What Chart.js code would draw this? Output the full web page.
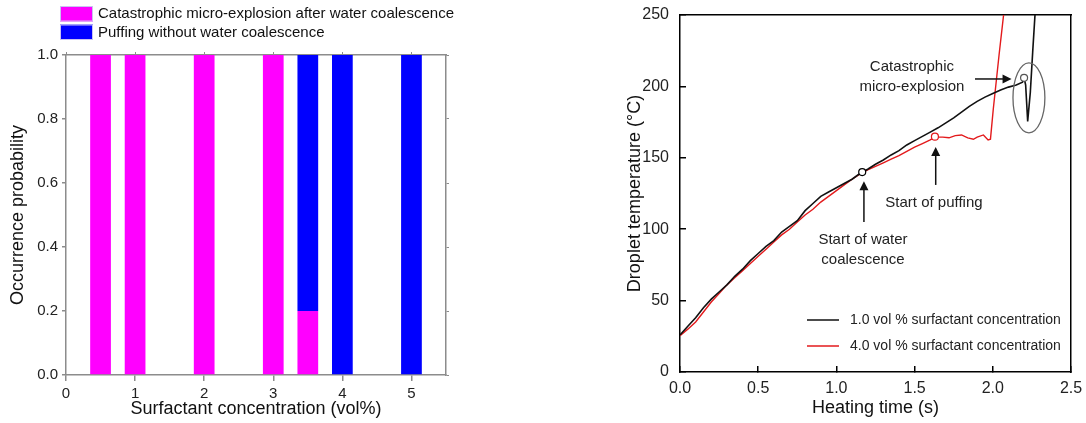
<!DOCTYPE html>
<html>
<head>
<meta charset="utf-8">
<script src="https://cdn.jsdelivr.net/npm/chart.js@4.4.1/dist/chart.umd.min.js"></script>
<style>
  html, body { margin: 0; padding: 0; background: #fff; }
  #wrap { position: relative; width: 1086px; height: 423px; }
  .panel { position: absolute; top: 0; height: 423px; }
  #left { left: 0; width: 560px; }
  #right { left: 560px; width: 526px; }
</style>
</head>
<body>
<div id="wrap">
  <div class="panel" id="left"><canvas id="probChart"></canvas></div>
  <div class="panel" id="right"><canvas id="tempChart"></canvas></div>
</div>
<script>
// left panel: occurrence probability per surfactant concentration (vol%)
const concentrations = [0.5, 1, 2, 3, 3.5, 4, 5];
const microExplosionProb = [1, 1, 1, 1, 0.2, 0, 0];
const puffingProb = [0, 0, 0, 0, 0.8, 1, 1];

// right panel: droplet temperature (°C) vs heating time (s)
const time1 = [0, 0.05, 0.1, 0.15, 0.2, 0.25, 0.3, 0.35, 0.4, 0.45, 0.5, 0.55, 0.6, 0.65, 0.7, 0.75, 0.8, 0.85, 0.9, 0.95,
  1.0, 1.05, 1.1, 1.15, 1.2, 1.25, 1.3, 1.35, 1.4, 1.45, 1.5, 1.55, 1.6, 1.65, 1.7, 1.75, 1.8, 1.85, 1.9, 1.95,
  2.0, 2.05, 2.1, 2.15, 2.19, 2.2, 2.21, 2.223, 2.24, 2.255, 2.272];
const temp1 = [26, 32, 38, 45, 51, 56, 61, 67, 72, 78, 83, 88, 92, 98, 102, 106, 113, 118, 123, 126,
  129, 132, 135, 139, 142, 145.5, 148.5, 152, 155, 159, 162, 165, 168, 171, 174.5, 178, 182, 186, 189.5, 192.5,
  195, 197.5, 199.5, 201, 203, 206, 201, 175.5, 196, 224, 254];
const time4 = [0, 0.05, 0.1, 0.15, 0.2, 0.25, 0.3, 0.35, 0.4, 0.45, 0.5, 0.55, 0.6, 0.65, 0.7, 0.75, 0.8, 0.85, 0.9, 0.95,
  1.0, 1.05, 1.1, 1.15, 1.2, 1.25, 1.3, 1.35, 1.4, 1.45, 1.5, 1.55, 1.6, 1.63, 1.68, 1.72, 1.76, 1.8, 1.84, 1.876,
  1.9, 1.94, 1.97, 1.985, 2.003, 2.04, 2.07, 2.08];
const temp4 = [25.5, 30, 35, 42, 49, 55, 61, 66, 71, 76, 81, 86, 91, 96, 100, 105, 110, 114, 119, 123,
  127, 131, 135, 138.5, 141.5, 144, 146.5, 149, 151.5, 154.5, 157.5, 160, 162.5, 164.5, 164.5, 164, 165.5, 166, 164, 163,
  164.5, 166, 162.5, 163, 184, 222, 251, 263];

// event markers: water coalescence, start of puffing, micro-explosion
const markerTimes = [1.165, 1.63, 2.2];
const markerTemps = [140, 164.8, 206];
const markerColors = ['#000000', '#e31a1c', '#555555'];

Chart.defaults.font.family = '"Liberation Sans", Arial, sans-serif';
Chart.defaults.color = '#222';
const narrowFont = '"Liberation Sans Narrow", "Arial Narrow", "Liberation Sans", Arial, sans-serif';

const toXY = (xs, ys) => xs.map((x, i) => ({ x, y: ys[i] }));

function drawArrow(ctx, x1, y1, x2, y2) {
  const ang = Math.atan2(y2 - y1, x2 - x1);
  const len = 9, half = 4.5;
  ctx.beginPath();
  ctx.moveTo(x1, y1);
  ctx.lineTo(x2 - Math.cos(ang) * len * 0.8, y2 - Math.sin(ang) * len * 0.8);
  ctx.stroke();
  ctx.beginPath();
  ctx.moveTo(x2, y2);
  ctx.lineTo(x2 - Math.cos(ang) * len - Math.sin(ang) * half, y2 - Math.sin(ang) * len + Math.cos(ang) * half);
  ctx.lineTo(x2 - Math.cos(ang) * len + Math.sin(ang) * half, y2 - Math.sin(ang) * len - Math.cos(ang) * half);
  ctx.closePath();
  ctx.fill();
}

// legend above the plot, stacked entries
const boxLegend = {
  id: 'boxLegend',
  afterDraw(chart) {
    const { ctx } = chart;
    ctx.save();
    ctx.font = '15px "Liberation Sans", Arial, sans-serif';
    ctx.textBaseline = 'middle';
    chart.data.datasets.forEach((ds, i) => {
      const top = 6 + i * 18.5;
      ctx.fillStyle = ds.backgroundColor;
      ctx.fillRect(60, top, 33, 15.5);
      ctx.strokeStyle = '#c9c3f2';
      ctx.lineWidth = 1;
      ctx.strokeRect(60.5, top + 0.5, 32, 14.5);
      ctx.fillStyle = '#111';
      ctx.fillText(ds.label, 98, top + 8);
    });
    ctx.restore();
  }
};

const tempNotes = {
  id: 'tempNotes',
  afterDraw(chart) {
    const { ctx, scales: { x, y } } = chart;
    const px = v => x.getPixelForValue(v);
    const py = v => y.getPixelForValue(v);
    ctx.save();
    ctx.fillStyle = '#222';
    ctx.strokeStyle = '#111';
    ctx.lineWidth = 1.5;
    ctx.font = '15px "Liberation Sans", Arial, sans-serif';
    ctx.textAlign = 'center';
    ctx.textBaseline = 'middle';
    ctx.fillText('Catastrophic', px(1.483), py(213.5));
    ctx.fillText('micro-explosion', px(1.483), py(199.5));
    ctx.fillText('Start of puffing', px(1.624), py(118.3));
    ctx.fillText('Start of water', px(1.17), py(92.8));
    ctx.fillText('coalescence', px(1.17), py(78.5));
    ctx.fillStyle = '#111';
    drawArrow(ctx, px(1.886), py(205.2), px(2.12), py(205.2));
    drawArrow(ctx, px(1.635), py(131), px(1.635), py(157.5));
    drawArrow(ctx, px(1.176), py(105), px(1.176), py(133.5));
    // circle around the micro-explosion dip
    ctx.strokeStyle = '#666';
    ctx.lineWidth = 1.3;
    ctx.beginPath();
    ctx.ellipse(px(2.231), py(192), px(2.333) - px(2.231), py(192) - py(216.5), 0, 0, Math.PI * 2);
    ctx.stroke();
    // legend, lower right inside the plot
    ctx.font = '14px "Liberation Sans", Arial, sans-serif';
    ctx.textAlign = 'left';
    const a = chart.chartArea;
    chart.data.datasets.filter(ds => ds.showLine !== false).forEach((ds, i) => {
      const ly = a.bottom - 52 + i * 26;
      ctx.strokeStyle = ds.borderColor;
      ctx.lineWidth = 1.5;
      ctx.beginPath();
      ctx.moveTo(a.left + 127, ly);
      ctx.lineTo(a.left + 159, ly);
      ctx.stroke();
      ctx.fillStyle = '#222';
      ctx.fillText(ds.label, a.left + 170, ly);
    });
    ctx.restore();
  }
};

const grayAxis = '#8c8c8c';

new Chart(document.getElementById('probChart'), {
  type: 'bar',
  data: {
    datasets: [
      { label: 'Catastrophic micro-explosion after water coalescence', data: toXY(concentrations, microExplosionProb), backgroundColor: '#ff00ff' },
      { label: 'Puffing without water coalescence', data: toXY(concentrations, puffingProb), backgroundColor: '#0000ff' }
    ]
  },
  options: {
    responsive: true,
    maintainAspectRatio: false,
    animation: false,
    layout: { padding: { top: 51, right: 110, left: 0, bottom: 0 } },
    datasets: { bar: { barPercentage: 0.6, categoryPercentage: 1, borderWidth: 0 } },
    plugins: { legend: { display: false }, tooltip: { enabled: false } },
    scales: {
      x: {
        type: 'linear', position: 'bottom', min: 0, max: 5.5, stacked: true, offset: false,
        grid: { drawOnChartArea: false, offset: false, tickLength: 6, color: grayAxis, lineWidth: 1.5 },
        border: { color: grayAxis, width: 1.5 },
        ticks: { stepSize: 1, includeBounds: false, padding: 4, color: '#222', font: { size: 15 } },
        title: { display: true, text: 'Surfactant concentration (vol%)', color: '#111', font: { size: 18 }, padding: { top: 0, bottom: 3 } },
        afterFit: s => { s.height = 48; }
      },
      x2: {
        type: 'linear', position: 'top', min: 0, max: 5.5, offset: false,
        grid: { drawOnChartArea: false, offset: false, tickLength: 3, color: grayAxis, lineWidth: 1 },
        border: { color: grayAxis, width: 1.5 },
        ticks: { display: false, stepSize: 1, includeBounds: false },
        afterFit: s => { s.height = 4; }
      },
      y: {
        min: 0, max: 1, stacked: true,
        grid: { drawOnChartArea: false, tickLength: 4, color: grayAxis, lineWidth: 1.5 },
        border: { color: grayAxis, width: 1.5 },
        ticks: { stepSize: 0.2, padding: 4, color: '#222', font: { size: 15 }, callback: v => v.toFixed(1) },
        title: { display: true, text: 'Occurrence probability', color: '#111', font: { size: 18 }, padding: { top: 7, bottom: 0 } },
        afterFit: s => { s.width = 66; }
      },
      y2: {
        position: 'right', min: 0, max: 1,
        grid: { drawOnChartArea: false, tickLength: 3, color: grayAxis, lineWidth: 1 },
        border: { color: grayAxis, width: 1.5 },
        ticks: { display: false, stepSize: 0.2 },
        afterFit: s => { s.width = 4; }
      }
    }
  },
  plugins: [boxLegend]
});

new Chart(document.getElementById('tempChart'), {
  type: 'line',
  data: {
    datasets: [
      { label: 'markers', data: toXY(markerTimes, markerTemps), showLine: false, order: -1,
        pointRadius: 3.5, pointBackgroundColor: '#fff', pointBorderColor: markerColors, pointBorderWidth: 1.2 },
      { label: '1.0 vol % surfactant concentration', data: toXY(time1, temp1), borderColor: '#111', borderWidth: 1.6, pointRadius: 0 },
      { label: '4.0 vol % surfactant concentration', data: toXY(time4, temp4), borderColor: '#e31a1c', borderWidth: 1.4, pointRadius: 0 }
    ]
  },
  options: {
    responsive: true,
    maintainAspectRatio: false,
    animation: false,
    layout: { padding: { top: 15, right: 15, left: 0, bottom: 0 } },
    plugins: { legend: { display: false }, tooltip: { enabled: false } },
    scales: {
      x: {
        type: 'linear', position: 'bottom', min: 0, max: 2.5,
        grid: { drawOnChartArea: false, tickLength: -6, color: '#000', lineWidth: 1.5 },
        border: { color: '#000', width: 1.5 },
        ticks: { stepSize: 0.5, padding: 13, color: '#222', font: { family: narrowFont, size: 16 }, callback: v => v.toFixed(1) },
        title: { display: true, text: 'Heating time (s)', color: '#111', font: { size: 18 }, padding: { top: 0, bottom: 4 } },
        afterFit: s => { s.height = 51; s.paddingLeft = 0; s.paddingRight = 0; }
      },
      x2: {
        type: 'linear', position: 'top', min: 0, max: 2.5,
        grid: { drawOnChartArea: false, drawTicks: false },
        border: { color: '#000', width: 1.5 },
        ticks: { display: false },
        afterFit: s => { s.height = 0; }
      },
      y: {
        min: 0, max: 250,
        grid: { drawOnChartArea: false, tickLength: -6, color: '#000', lineWidth: 1.5 },
        border: { color: '#000', width: 1.5 },
        ticks: { stepSize: 50, padding: 17, color: '#222', font: { family: narrowFont, size: 16 } },
        title: { display: true, text: 'Droplet temperature (°C)', color: '#111', font: { size: 18 }, padding: { top: 64, bottom: 0 } },
        afterFit: s => { s.width = 120; s.paddingTop = 0; s.paddingBottom = 0; }
      },
      y2: {
        position: 'right', min: 0, max: 250,
        grid: { drawOnChartArea: false, drawTicks: false },
        border: { color: '#000', width: 1.5 },
        ticks: { display: false },
        afterFit: s => { s.width = 0; }
      }
    }
  },
  plugins: [tempNotes]
});
</script>
</body>
</html>
